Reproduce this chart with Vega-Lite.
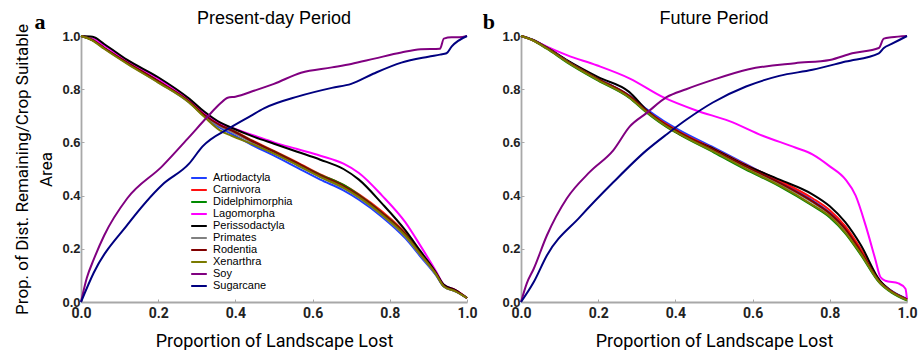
{
"$schema": "https://vega.github.io/schema/vega-lite/v6.json",
"background": "white",
"padding": {"left": 13, "top": 9, "right": 6, "bottom": 1},
"bounds": "flush",
"spacing": 54,
"config": {
  "view": {"stroke": null},
  "axis": {"grid": false, "domainColor": "#a8a8a8", "domainWidth": 1.8, "tickColor": "#a8a8a8", "tickSize": -3, "tickWidth": 1},
  "title": {"font": "Liberation Sans", "fontSize": 18, "fontWeight": "normal", "color": "#000", "offset": -17},
  "line": {"interpolate": "monotone", "strokeWidth": 2}
},
"datasets": {
"letters": [{"p": "a", "t": "a"}, {"p": "b", "t": "b"}],
"curves": [
{"p":"a","s":"Artiodactyla","x":0,"y":1},{"p":"a","s":"Artiodactyla","x":0.03,"y":0.985},{"p":"a","s":"Artiodactyla","x":0.06,"y":0.955},{"p":"a","s":"Artiodactyla","x":0.12,"y":0.898},{"p":"a","s":"Artiodactyla","x":0.2,"y":0.828},{"p":"a","s":"Artiodactyla","x":0.28,"y":0.752},{"p":"a","s":"Artiodactyla","x":0.32,"y":0.7},{"p":"a","s":"Artiodactyla","x":0.36,"y":0.655},{"p":"a","s":"Artiodactyla","x":0.39,"y":0.632},{"p":"a","s":"Artiodactyla","x":0.45,"y":0.585},{"p":"a","s":"Artiodactyla","x":0.5,"y":0.55},{"p":"a","s":"Artiodactyla","x":0.56,"y":0.505},{"p":"a","s":"Artiodactyla","x":0.62,"y":0.46},{"p":"a","s":"Artiodactyla","x":0.68,"y":0.42},{"p":"a","s":"Artiodactyla","x":0.72,"y":0.385},{"p":"a","s":"Artiodactyla","x":0.78,"y":0.32},{"p":"a","s":"Artiodactyla","x":0.84,"y":0.24},{"p":"a","s":"Artiodactyla","x":0.88,"y":0.17},{"p":"a","s":"Artiodactyla","x":0.92,"y":0.1},{"p":"a","s":"Artiodactyla","x":0.94,"y":0.058},{"p":"a","s":"Artiodactyla","x":0.97,"y":0.04},{"p":"a","s":"Artiodactyla","x":1,"y":0.015},
{"p":"a","s":"Carnivora","x":0,"y":1},{"p":"a","s":"Carnivora","x":0.03,"y":0.985},{"p":"a","s":"Carnivora","x":0.06,"y":0.955},{"p":"a","s":"Carnivora","x":0.12,"y":0.9},{"p":"a","s":"Carnivora","x":0.2,"y":0.83},{"p":"a","s":"Carnivora","x":0.28,"y":0.755},{"p":"a","s":"Carnivora","x":0.32,"y":0.705},{"p":"a","s":"Carnivora","x":0.36,"y":0.668},{"p":"a","s":"Carnivora","x":0.39,"y":0.648},{"p":"a","s":"Carnivora","x":0.45,"y":0.603},{"p":"a","s":"Carnivora","x":0.5,"y":0.568},{"p":"a","s":"Carnivora","x":0.56,"y":0.525},{"p":"a","s":"Carnivora","x":0.62,"y":0.48},{"p":"a","s":"Carnivora","x":0.68,"y":0.44},{"p":"a","s":"Carnivora","x":0.72,"y":0.405},{"p":"a","s":"Carnivora","x":0.78,"y":0.34},{"p":"a","s":"Carnivora","x":0.84,"y":0.26},{"p":"a","s":"Carnivora","x":0.88,"y":0.185},{"p":"a","s":"Carnivora","x":0.92,"y":0.108},{"p":"a","s":"Carnivora","x":0.94,"y":0.062},{"p":"a","s":"Carnivora","x":0.97,"y":0.045},{"p":"a","s":"Carnivora","x":1,"y":0.015},
{"p":"a","s":"Didelphimorphia","x":0,"y":1},{"p":"a","s":"Didelphimorphia","x":0.03,"y":0.985},{"p":"a","s":"Didelphimorphia","x":0.06,"y":0.955},{"p":"a","s":"Didelphimorphia","x":0.12,"y":0.9},{"p":"a","s":"Didelphimorphia","x":0.2,"y":0.83},{"p":"a","s":"Didelphimorphia","x":0.28,"y":0.755},{"p":"a","s":"Didelphimorphia","x":0.32,"y":0.703},{"p":"a","s":"Didelphimorphia","x":0.36,"y":0.666},{"p":"a","s":"Didelphimorphia","x":0.39,"y":0.646},{"p":"a","s":"Didelphimorphia","x":0.45,"y":0.6},{"p":"a","s":"Didelphimorphia","x":0.5,"y":0.566},{"p":"a","s":"Didelphimorphia","x":0.56,"y":0.522},{"p":"a","s":"Didelphimorphia","x":0.62,"y":0.478},{"p":"a","s":"Didelphimorphia","x":0.68,"y":0.44},{"p":"a","s":"Didelphimorphia","x":0.72,"y":0.402},{"p":"a","s":"Didelphimorphia","x":0.78,"y":0.335},{"p":"a","s":"Didelphimorphia","x":0.84,"y":0.255},{"p":"a","s":"Didelphimorphia","x":0.88,"y":0.182},{"p":"a","s":"Didelphimorphia","x":0.92,"y":0.105},{"p":"a","s":"Didelphimorphia","x":0.94,"y":0.06},{"p":"a","s":"Didelphimorphia","x":0.97,"y":0.043},{"p":"a","s":"Didelphimorphia","x":1,"y":0.015},
{"p":"a","s":"Lagomorpha","x":0,"y":1},{"p":"a","s":"Lagomorpha","x":0.03,"y":0.99},{"p":"a","s":"Lagomorpha","x":0.06,"y":0.965},{"p":"a","s":"Lagomorpha","x":0.12,"y":0.905},{"p":"a","s":"Lagomorpha","x":0.2,"y":0.84},{"p":"a","s":"Lagomorpha","x":0.28,"y":0.76},{"p":"a","s":"Lagomorpha","x":0.32,"y":0.71},{"p":"a","s":"Lagomorpha","x":0.36,"y":0.672},{"p":"a","s":"Lagomorpha","x":0.39,"y":0.655},{"p":"a","s":"Lagomorpha","x":0.45,"y":0.625},{"p":"a","s":"Lagomorpha","x":0.5,"y":0.6},{"p":"a","s":"Lagomorpha","x":0.56,"y":0.575},{"p":"a","s":"Lagomorpha","x":0.62,"y":0.55},{"p":"a","s":"Lagomorpha","x":0.68,"y":0.52},{"p":"a","s":"Lagomorpha","x":0.72,"y":0.485},{"p":"a","s":"Lagomorpha","x":0.78,"y":0.4},{"p":"a","s":"Lagomorpha","x":0.84,"y":0.3},{"p":"a","s":"Lagomorpha","x":0.88,"y":0.21},{"p":"a","s":"Lagomorpha","x":0.92,"y":0.115},{"p":"a","s":"Lagomorpha","x":0.94,"y":0.065},{"p":"a","s":"Lagomorpha","x":0.97,"y":0.045},{"p":"a","s":"Lagomorpha","x":1,"y":0.015},
{"p":"a","s":"Perissodactyla","x":0,"y":1},{"p":"a","s":"Perissodactyla","x":0.03,"y":0.997},{"p":"a","s":"Perissodactyla","x":0.06,"y":0.97},{"p":"a","s":"Perissodactyla","x":0.12,"y":0.91},{"p":"a","s":"Perissodactyla","x":0.2,"y":0.845},{"p":"a","s":"Perissodactyla","x":0.28,"y":0.765},{"p":"a","s":"Perissodactyla","x":0.32,"y":0.715},{"p":"a","s":"Perissodactyla","x":0.36,"y":0.675},{"p":"a","s":"Perissodactyla","x":0.39,"y":0.655},{"p":"a","s":"Perissodactyla","x":0.45,"y":0.62},{"p":"a","s":"Perissodactyla","x":0.5,"y":0.595},{"p":"a","s":"Perissodactyla","x":0.56,"y":0.565},{"p":"a","s":"Perissodactyla","x":0.62,"y":0.535},{"p":"a","s":"Perissodactyla","x":0.68,"y":0.5},{"p":"a","s":"Perissodactyla","x":0.72,"y":0.46},{"p":"a","s":"Perissodactyla","x":0.78,"y":0.37},{"p":"a","s":"Perissodactyla","x":0.84,"y":0.27},{"p":"a","s":"Perissodactyla","x":0.88,"y":0.19},{"p":"a","s":"Perissodactyla","x":0.92,"y":0.11},{"p":"a","s":"Perissodactyla","x":0.94,"y":0.065},{"p":"a","s":"Perissodactyla","x":0.97,"y":0.045},{"p":"a","s":"Perissodactyla","x":1,"y":0.015},
{"p":"a","s":"Primates","x":0,"y":1},{"p":"a","s":"Primates","x":0.03,"y":0.985},{"p":"a","s":"Primates","x":0.06,"y":0.953},{"p":"a","s":"Primates","x":0.12,"y":0.897},{"p":"a","s":"Primates","x":0.2,"y":0.826},{"p":"a","s":"Primates","x":0.28,"y":0.75},{"p":"a","s":"Primates","x":0.32,"y":0.698},{"p":"a","s":"Primates","x":0.36,"y":0.66},{"p":"a","s":"Primates","x":0.39,"y":0.64},{"p":"a","s":"Primates","x":0.45,"y":0.595},{"p":"a","s":"Primates","x":0.5,"y":0.56},{"p":"a","s":"Primates","x":0.56,"y":0.515},{"p":"a","s":"Primates","x":0.62,"y":0.47},{"p":"a","s":"Primates","x":0.68,"y":0.428},{"p":"a","s":"Primates","x":0.72,"y":0.392},{"p":"a","s":"Primates","x":0.78,"y":0.326},{"p":"a","s":"Primates","x":0.84,"y":0.246},{"p":"a","s":"Primates","x":0.88,"y":0.175},{"p":"a","s":"Primates","x":0.92,"y":0.102},{"p":"a","s":"Primates","x":0.94,"y":0.058},{"p":"a","s":"Primates","x":0.97,"y":0.04},{"p":"a","s":"Primates","x":1,"y":0.015},
{"p":"a","s":"Rodentia","x":0,"y":1},{"p":"a","s":"Rodentia","x":0.03,"y":0.985},{"p":"a","s":"Rodentia","x":0.06,"y":0.955},{"p":"a","s":"Rodentia","x":0.12,"y":0.9},{"p":"a","s":"Rodentia","x":0.2,"y":0.83},{"p":"a","s":"Rodentia","x":0.28,"y":0.755},{"p":"a","s":"Rodentia","x":0.32,"y":0.703},{"p":"a","s":"Rodentia","x":0.36,"y":0.665},{"p":"a","s":"Rodentia","x":0.39,"y":0.645},{"p":"a","s":"Rodentia","x":0.45,"y":0.6},{"p":"a","s":"Rodentia","x":0.5,"y":0.565},{"p":"a","s":"Rodentia","x":0.56,"y":0.522},{"p":"a","s":"Rodentia","x":0.62,"y":0.476},{"p":"a","s":"Rodentia","x":0.68,"y":0.436},{"p":"a","s":"Rodentia","x":0.72,"y":0.4},{"p":"a","s":"Rodentia","x":0.78,"y":0.334},{"p":"a","s":"Rodentia","x":0.84,"y":0.254},{"p":"a","s":"Rodentia","x":0.88,"y":0.18},{"p":"a","s":"Rodentia","x":0.92,"y":0.106},{"p":"a","s":"Rodentia","x":0.94,"y":0.06},{"p":"a","s":"Rodentia","x":0.97,"y":0.042},{"p":"a","s":"Rodentia","x":1,"y":0.015},
{"p":"a","s":"Xenarthra","x":0,"y":1},{"p":"a","s":"Xenarthra","x":0.03,"y":0.983},{"p":"a","s":"Xenarthra","x":0.06,"y":0.952},{"p":"a","s":"Xenarthra","x":0.12,"y":0.895},{"p":"a","s":"Xenarthra","x":0.2,"y":0.825},{"p":"a","s":"Xenarthra","x":0.28,"y":0.75},{"p":"a","s":"Xenarthra","x":0.32,"y":0.695},{"p":"a","s":"Xenarthra","x":0.36,"y":0.645},{"p":"a","s":"Xenarthra","x":0.39,"y":0.625},{"p":"a","s":"Xenarthra","x":0.45,"y":0.59},{"p":"a","s":"Xenarthra","x":0.5,"y":0.558},{"p":"a","s":"Xenarthra","x":0.56,"y":0.515},{"p":"a","s":"Xenarthra","x":0.62,"y":0.47},{"p":"a","s":"Xenarthra","x":0.68,"y":0.43},{"p":"a","s":"Xenarthra","x":0.72,"y":0.394},{"p":"a","s":"Xenarthra","x":0.78,"y":0.328},{"p":"a","s":"Xenarthra","x":0.84,"y":0.25},{"p":"a","s":"Xenarthra","x":0.88,"y":0.178},{"p":"a","s":"Xenarthra","x":0.92,"y":0.104},{"p":"a","s":"Xenarthra","x":0.94,"y":0.058},{"p":"a","s":"Xenarthra","x":0.97,"y":0.04},{"p":"a","s":"Xenarthra","x":1,"y":0.015},
{"p":"a","s":"Soy","x":0,"y":0},{"p":"a","s":"Soy","x":0.015,"y":0.09},{"p":"a","s":"Soy","x":0.033,"y":0.16},{"p":"a","s":"Soy","x":0.06,"y":0.25},{"p":"a","s":"Soy","x":0.12,"y":0.39},{"p":"a","s":"Soy","x":0.21,"y":0.51},{"p":"a","s":"Soy","x":0.28,"y":0.62},{"p":"a","s":"Soy","x":0.33,"y":0.7},{"p":"a","s":"Soy","x":0.36,"y":0.745},{"p":"a","s":"Soy","x":0.38,"y":0.768},{"p":"a","s":"Soy","x":0.4,"y":0.772},{"p":"a","s":"Soy","x":0.45,"y":0.795},{"p":"a","s":"Soy","x":0.5,"y":0.82},{"p":"a","s":"Soy","x":0.57,"y":0.862},{"p":"a","s":"Soy","x":0.65,"y":0.882},{"p":"a","s":"Soy","x":0.7,"y":0.895},{"p":"a","s":"Soy","x":0.76,"y":0.915},{"p":"a","s":"Soy","x":0.83,"y":0.938},{"p":"a","s":"Soy","x":0.88,"y":0.95},{"p":"a","s":"Soy","x":0.93,"y":0.952},{"p":"a","s":"Soy","x":0.94,"y":0.99},{"p":"a","s":"Soy","x":0.96,"y":0.995},{"p":"a","s":"Soy","x":0.98,"y":0.995},{"p":"a","s":"Soy","x":1,"y":1},
{"p":"a","s":"Sugarcane","x":0,"y":0},{"p":"a","s":"Sugarcane","x":0.033,"y":0.11},{"p":"a","s":"Sugarcane","x":0.12,"y":0.29},{"p":"a","s":"Sugarcane","x":0.21,"y":0.44},{"p":"a","s":"Sugarcane","x":0.28,"y":0.52},{"p":"a","s":"Sugarcane","x":0.315,"y":0.585},{"p":"a","s":"Sugarcane","x":0.386,"y":0.655},{"p":"a","s":"Sugarcane","x":0.44,"y":0.7},{"p":"a","s":"Sugarcane","x":0.474,"y":0.728},{"p":"a","s":"Sugarcane","x":0.563,"y":0.773},{"p":"a","s":"Sugarcane","x":0.65,"y":0.805},{"p":"a","s":"Sugarcane","x":0.7,"y":0.82},{"p":"a","s":"Sugarcane","x":0.757,"y":0.858},{"p":"a","s":"Sugarcane","x":0.83,"y":0.9},{"p":"a","s":"Sugarcane","x":0.9,"y":0.922},{"p":"a","s":"Sugarcane","x":0.93,"y":0.93},{"p":"a","s":"Sugarcane","x":0.947,"y":0.935},{"p":"a","s":"Sugarcane","x":0.96,"y":0.96},{"p":"a","s":"Sugarcane","x":1,"y":1},
{"p":"b","s":"Artiodactyla","x":0,"y":1},{"p":"b","s":"Artiodactyla","x":0.03,"y":0.986},{"p":"b","s":"Artiodactyla","x":0.067,"y":0.957},{"p":"b","s":"Artiodactyla","x":0.12,"y":0.907},{"p":"b","s":"Artiodactyla","x":0.2,"y":0.84},{"p":"b","s":"Artiodactyla","x":0.28,"y":0.777},{"p":"b","s":"Artiodactyla","x":0.325,"y":0.725},{"p":"b","s":"Artiodactyla","x":0.37,"y":0.68},{"p":"b","s":"Artiodactyla","x":0.41,"y":0.646},{"p":"b","s":"Artiodactyla","x":0.5,"y":0.58},{"p":"b","s":"Artiodactyla","x":0.58,"y":0.52},{"p":"b","s":"Artiodactyla","x":0.67,"y":0.452},{"p":"b","s":"Artiodactyla","x":0.755,"y":0.382},{"p":"b","s":"Artiodactyla","x":0.8,"y":0.336},{"p":"b","s":"Artiodactyla","x":0.84,"y":0.278},{"p":"b","s":"Artiodactyla","x":0.88,"y":0.192},{"p":"b","s":"Artiodactyla","x":0.93,"y":0.077},{"p":"b","s":"Artiodactyla","x":0.96,"y":0.042},{"p":"b","s":"Artiodactyla","x":1,"y":0.012},
{"p":"b","s":"Carnivora","x":0,"y":1},{"p":"b","s":"Carnivora","x":0.03,"y":0.985},{"p":"b","s":"Carnivora","x":0.067,"y":0.955},{"p":"b","s":"Carnivora","x":0.12,"y":0.905},{"p":"b","s":"Carnivora","x":0.2,"y":0.838},{"p":"b","s":"Carnivora","x":0.28,"y":0.775},{"p":"b","s":"Carnivora","x":0.325,"y":0.72},{"p":"b","s":"Carnivora","x":0.37,"y":0.674},{"p":"b","s":"Carnivora","x":0.41,"y":0.64},{"p":"b","s":"Carnivora","x":0.5,"y":0.576},{"p":"b","s":"Carnivora","x":0.58,"y":0.517},{"p":"b","s":"Carnivora","x":0.67,"y":0.456},{"p":"b","s":"Carnivora","x":0.755,"y":0.39},{"p":"b","s":"Carnivora","x":0.8,"y":0.345},{"p":"b","s":"Carnivora","x":0.84,"y":0.285},{"p":"b","s":"Carnivora","x":0.88,"y":0.2},{"p":"b","s":"Carnivora","x":0.93,"y":0.078},{"p":"b","s":"Carnivora","x":0.96,"y":0.04},{"p":"b","s":"Carnivora","x":1,"y":0.01},
{"p":"b","s":"Didelphimorphia","x":0,"y":1},{"p":"b","s":"Didelphimorphia","x":0.03,"y":0.984},{"p":"b","s":"Didelphimorphia","x":0.067,"y":0.952},{"p":"b","s":"Didelphimorphia","x":0.12,"y":0.9},{"p":"b","s":"Didelphimorphia","x":0.2,"y":0.832},{"p":"b","s":"Didelphimorphia","x":0.28,"y":0.768},{"p":"b","s":"Didelphimorphia","x":0.325,"y":0.713},{"p":"b","s":"Didelphimorphia","x":0.37,"y":0.665},{"p":"b","s":"Didelphimorphia","x":0.41,"y":0.63},{"p":"b","s":"Didelphimorphia","x":0.5,"y":0.562},{"p":"b","s":"Didelphimorphia","x":0.58,"y":0.5},{"p":"b","s":"Didelphimorphia","x":0.67,"y":0.435},{"p":"b","s":"Didelphimorphia","x":0.755,"y":0.362},{"p":"b","s":"Didelphimorphia","x":0.8,"y":0.318},{"p":"b","s":"Didelphimorphia","x":0.84,"y":0.258},{"p":"b","s":"Didelphimorphia","x":0.88,"y":0.178},{"p":"b","s":"Didelphimorphia","x":0.93,"y":0.07},{"p":"b","s":"Didelphimorphia","x":0.96,"y":0.035},{"p":"b","s":"Didelphimorphia","x":1,"y":0.005},
{"p":"b","s":"Lagomorpha","x":0,"y":1},{"p":"b","s":"Lagomorpha","x":0.03,"y":0.985},{"p":"b","s":"Lagomorpha","x":0.067,"y":0.96},{"p":"b","s":"Lagomorpha","x":0.119,"y":0.928},{"p":"b","s":"Lagomorpha","x":0.196,"y":0.89},{"p":"b","s":"Lagomorpha","x":0.282,"y":0.84},{"p":"b","s":"Lagomorpha","x":0.368,"y":0.77},{"p":"b","s":"Lagomorpha","x":0.454,"y":0.72},{"p":"b","s":"Lagomorpha","x":0.54,"y":0.68},{"p":"b","s":"Lagomorpha","x":0.626,"y":0.625},{"p":"b","s":"Lagomorpha","x":0.712,"y":0.58},{"p":"b","s":"Lagomorpha","x":0.755,"y":0.555},{"p":"b","s":"Lagomorpha","x":0.8,"y":0.51},{"p":"b","s":"Lagomorpha","x":0.841,"y":0.46},{"p":"b","s":"Lagomorpha","x":0.867,"y":0.4},{"p":"b","s":"Lagomorpha","x":0.893,"y":0.287},{"p":"b","s":"Lagomorpha","x":0.918,"y":0.16},{"p":"b","s":"Lagomorpha","x":0.931,"y":0.094},{"p":"b","s":"Lagomorpha","x":0.944,"y":0.08},{"p":"b","s":"Lagomorpha","x":0.978,"y":0.07},{"p":"b","s":"Lagomorpha","x":0.996,"y":0.05},{"p":"b","s":"Lagomorpha","x":1,"y":0.01},
{"p":"b","s":"Perissodactyla","x":0,"y":1},{"p":"b","s":"Perissodactyla","x":0.03,"y":0.986},{"p":"b","s":"Perissodactyla","x":0.067,"y":0.957},{"p":"b","s":"Perissodactyla","x":0.12,"y":0.908},{"p":"b","s":"Perissodactyla","x":0.2,"y":0.845},{"p":"b","s":"Perissodactyla","x":0.28,"y":0.79},{"p":"b","s":"Perissodactyla","x":0.325,"y":0.722},{"p":"b","s":"Perissodactyla","x":0.37,"y":0.668},{"p":"b","s":"Perissodactyla","x":0.41,"y":0.632},{"p":"b","s":"Perissodactyla","x":0.5,"y":0.575},{"p":"b","s":"Perissodactyla","x":0.58,"y":0.515},{"p":"b","s":"Perissodactyla","x":0.67,"y":0.46},{"p":"b","s":"Perissodactyla","x":0.755,"y":0.405},{"p":"b","s":"Perissodactyla","x":0.8,"y":0.36},{"p":"b","s":"Perissodactyla","x":0.84,"y":0.3},{"p":"b","s":"Perissodactyla","x":0.88,"y":0.215},{"p":"b","s":"Perissodactyla","x":0.93,"y":0.08},{"p":"b","s":"Perissodactyla","x":0.96,"y":0.04},{"p":"b","s":"Perissodactyla","x":1,"y":0.01},
{"p":"b","s":"Primates","x":0,"y":1},{"p":"b","s":"Primates","x":0.03,"y":0.985},{"p":"b","s":"Primates","x":0.067,"y":0.955},{"p":"b","s":"Primates","x":0.12,"y":0.905},{"p":"b","s":"Primates","x":0.2,"y":0.837},{"p":"b","s":"Primates","x":0.28,"y":0.772},{"p":"b","s":"Primates","x":0.325,"y":0.718},{"p":"b","s":"Primates","x":0.37,"y":0.67},{"p":"b","s":"Primates","x":0.41,"y":0.636},{"p":"b","s":"Primates","x":0.5,"y":0.57},{"p":"b","s":"Primates","x":0.58,"y":0.51},{"p":"b","s":"Primates","x":0.67,"y":0.445},{"p":"b","s":"Primates","x":0.755,"y":0.375},{"p":"b","s":"Primates","x":0.8,"y":0.33},{"p":"b","s":"Primates","x":0.84,"y":0.272},{"p":"b","s":"Primates","x":0.88,"y":0.188},{"p":"b","s":"Primates","x":0.93,"y":0.074},{"p":"b","s":"Primates","x":0.96,"y":0.04},{"p":"b","s":"Primates","x":1,"y":0.01},
{"p":"b","s":"Rodentia","x":0,"y":1},{"p":"b","s":"Rodentia","x":0.03,"y":0.985},{"p":"b","s":"Rodentia","x":0.067,"y":0.955},{"p":"b","s":"Rodentia","x":0.12,"y":0.905},{"p":"b","s":"Rodentia","x":0.2,"y":0.838},{"p":"b","s":"Rodentia","x":0.28,"y":0.775},{"p":"b","s":"Rodentia","x":0.325,"y":0.72},{"p":"b","s":"Rodentia","x":0.37,"y":0.672},{"p":"b","s":"Rodentia","x":0.41,"y":0.638},{"p":"b","s":"Rodentia","x":0.5,"y":0.572},{"p":"b","s":"Rodentia","x":0.58,"y":0.512},{"p":"b","s":"Rodentia","x":0.67,"y":0.448},{"p":"b","s":"Rodentia","x":0.755,"y":0.378},{"p":"b","s":"Rodentia","x":0.8,"y":0.333},{"p":"b","s":"Rodentia","x":0.84,"y":0.275},{"p":"b","s":"Rodentia","x":0.88,"y":0.19},{"p":"b","s":"Rodentia","x":0.93,"y":0.075},{"p":"b","s":"Rodentia","x":0.96,"y":0.04},{"p":"b","s":"Rodentia","x":1,"y":0.01},
{"p":"b","s":"Xenarthra","x":0,"y":1},{"p":"b","s":"Xenarthra","x":0.03,"y":0.984},{"p":"b","s":"Xenarthra","x":0.067,"y":0.953},{"p":"b","s":"Xenarthra","x":0.12,"y":0.902},{"p":"b","s":"Xenarthra","x":0.2,"y":0.834},{"p":"b","s":"Xenarthra","x":0.28,"y":0.77},{"p":"b","s":"Xenarthra","x":0.325,"y":0.715},{"p":"b","s":"Xenarthra","x":0.37,"y":0.667},{"p":"b","s":"Xenarthra","x":0.41,"y":0.632},{"p":"b","s":"Xenarthra","x":0.5,"y":0.565},{"p":"b","s":"Xenarthra","x":0.58,"y":0.503},{"p":"b","s":"Xenarthra","x":0.67,"y":0.438},{"p":"b","s":"Xenarthra","x":0.755,"y":0.365},{"p":"b","s":"Xenarthra","x":0.8,"y":0.322},{"p":"b","s":"Xenarthra","x":0.84,"y":0.262},{"p":"b","s":"Xenarthra","x":0.88,"y":0.182},{"p":"b","s":"Xenarthra","x":0.93,"y":0.072},{"p":"b","s":"Xenarthra","x":0.96,"y":0.037},{"p":"b","s":"Xenarthra","x":1,"y":0.007},
{"p":"b","s":"Soy","x":0,"y":0},{"p":"b","s":"Soy","x":0.015,"y":0.07},{"p":"b","s":"Soy","x":0.033,"y":0.125},{"p":"b","s":"Soy","x":0.067,"y":0.25},{"p":"b","s":"Soy","x":0.119,"y":0.39},{"p":"b","s":"Soy","x":0.179,"y":0.49},{"p":"b","s":"Soy","x":0.239,"y":0.57},{"p":"b","s":"Soy","x":0.282,"y":0.66},{"p":"b","s":"Soy","x":0.325,"y":0.71},{"p":"b","s":"Soy","x":0.377,"y":0.77},{"p":"b","s":"Soy","x":0.428,"y":0.8},{"p":"b","s":"Soy","x":0.497,"y":0.835},{"p":"b","s":"Soy","x":0.59,"y":0.875},{"p":"b","s":"Soy","x":0.71,"y":0.898},{"p":"b","s":"Soy","x":0.8,"y":0.91},{"p":"b","s":"Soy","x":0.858,"y":0.935},{"p":"b","s":"Soy","x":0.927,"y":0.955},{"p":"b","s":"Soy","x":0.94,"y":0.99},{"p":"b","s":"Soy","x":0.96,"y":0.995},{"p":"b","s":"Soy","x":1,"y":1},
{"p":"b","s":"Sugarcane","x":0,"y":0},{"p":"b","s":"Sugarcane","x":0.033,"y":0.075},{"p":"b","s":"Sugarcane","x":0.067,"y":0.175},{"p":"b","s":"Sugarcane","x":0.153,"y":0.32},{"p":"b","s":"Sugarcane","x":0.239,"y":0.45},{"p":"b","s":"Sugarcane","x":0.325,"y":0.57},{"p":"b","s":"Sugarcane","x":0.377,"y":0.63},{"p":"b","s":"Sugarcane","x":0.428,"y":0.685},{"p":"b","s":"Sugarcane","x":0.497,"y":0.75},{"p":"b","s":"Sugarcane","x":0.583,"y":0.81},{"p":"b","s":"Sugarcane","x":0.669,"y":0.85},{"p":"b","s":"Sugarcane","x":0.755,"y":0.873},{"p":"b","s":"Sugarcane","x":0.841,"y":0.904},{"p":"b","s":"Sugarcane","x":0.927,"y":0.935},{"p":"b","s":"Sugarcane","x":0.94,"y":0.955},{"p":"b","s":"Sugarcane","x":0.96,"y":0.97},{"p":"b","s":"Sugarcane","x":1,"y":1}
]
},
"resolve": {"legend": {"color": "independent"}},
"hconcat": [
{
  "width": 386, "height": 266,
  "title": {"text": "Present-day Period"},
  "layer": [
    {
      "data": {"name": "curves"},
      "transform": [{"filter": "datum.p == 'a'"}],
      "mark": {"type": "line"},
      "encoding": {
        "x": {"field": "x", "type": "quantitative", "scale": {"domain": [0, 1]},
          "axis": {"values": [0,0.1,0.2,0.3,0.4,0.5,0.6,0.7,0.8,0.9,1], "labelExpr": "round(datum.value*10) % 2 == 0 ? format(datum.value, '.1f') : ''", "labelFont": "Roboto", "labelFontWeight": "bold", "labelFontSize": 14, "labelColor": "#222", "labelPadding": 7, "title": "Proportion of Landscape Lost", "titleFont": "Roboto", "titleFontSize": 18, "titleFontWeight": "normal", "titleColor": "#000", "titlePadding": 12, "labelFlush": false}},
        "y": {"field": "y", "type": "quantitative", "scale": {"domain": [0, 1]},
          "axis": {"values": [0,0.1,0.2,0.3,0.4,0.5,0.6,0.7,0.8,0.9,1], "labelExpr": "round(datum.value*10) % 2 == 0 ? format(datum.value, '.1f') : ''", "labelFont": "Liberation Sans", "labelFontWeight": "bold", "labelFontSize": 13, "labelColor": "#222", "labelPadding": 4, "title": ["Prop. of Dist. Remaining/Crop Suitable", "Area"], "titleFont": "Roboto", "titleFontSize": 17, "titleFontWeight": "normal", "titleColor": "#000", "titleLineHeight": 24, "titlePadding": 6}},
        "color": {"field": "s", "type": "nominal",
          "scale": {"domain": ["Artiodactyla","Carnivora","Didelphimorphia","Lagomorpha","Perissodactyla","Primates","Rodentia","Xenarthra","Soy","Sugarcane"],
                    "range": ["#1f3fff","#ff1010","#008a00","#ff00ff","#000000","#808080","#800000","#7a7a00","#800080","#000080"]},
          "legend": {"orient": "none", "legendX": 111, "legendY": 135, "title": null, "padding": 0, "labelFont": "Liberation Sans", "labelFontSize": 11, "labelColor": "#000", "symbolType": "M-1.3,0H1.3", "symbolStrokeWidth": 2, "symbolSize": 144, "rowPadding": 0, "labelOffset": 7}}
      }
    },
    {
      "data": {"name": "letters"},
      "transform": [{"filter": "datum.p == 'a'"}],
      "mark": {"type": "text", "font": "Liberation Serif", "fontWeight": "bold", "fontSize": 22, "color": "#000"},
      "encoding": {"x": {"datum": -0.106, "type": "quantitative"}, "y": {"datum": 1.053, "type": "quantitative"}, "text": {"field": "t"}}
    }
  ]
},
{
  "width": 386, "height": 266,
  "title": {"text": "Future Period"},
  "layer": [
    {
      "data": {"name": "curves"},
      "transform": [{"filter": "datum.p == 'b'"}],
      "mark": {"type": "line"},
      "encoding": {
        "x": {"field": "x", "type": "quantitative", "scale": {"domain": [0, 1]},
          "axis": {"values": [0,0.1,0.2,0.3,0.4,0.5,0.6,0.7,0.8,0.9,1], "labelExpr": "round(datum.value*10) % 2 == 0 ? format(datum.value, '.1f') : ''", "labelFont": "Roboto", "labelFontWeight": "bold", "labelFontSize": 14, "labelColor": "#222", "labelPadding": 7, "title": "Proportion of Landscape Lost", "titleFont": "Roboto", "titleFontSize": 18, "titleFontWeight": "normal", "titleColor": "#000", "titlePadding": 12, "labelFlush": false}},
        "y": {"field": "y", "type": "quantitative", "scale": {"domain": [0, 1]},
          "axis": {"values": [0,0.1,0.2,0.3,0.4,0.5,0.6,0.7,0.8,0.9,1], "labelExpr": "round(datum.value*10) % 2 == 0 ? format(datum.value, '.1f') : ''", "labelFont": "Liberation Sans", "labelFontWeight": "bold", "labelFontSize": 13, "labelColor": "#222", "labelPadding": 4, "title": null}},
        "color": {"field": "s", "type": "nominal",
          "scale": {"domain": ["Artiodactyla","Carnivora","Didelphimorphia","Lagomorpha","Perissodactyla","Primates","Rodentia","Xenarthra","Soy","Sugarcane"],
                    "range": ["#1f3fff","#ff1010","#008a00","#ff00ff","#000000","#808080","#800000","#7a7a00","#800080","#000080"]},
          "legend": null}
      }
    },
    {
      "data": {"name": "letters"},
      "transform": [{"filter": "datum.p == 'b'"}],
      "mark": {"type": "text", "font": "Liberation Serif", "fontWeight": "bold", "fontSize": 22, "color": "#000"},
      "encoding": {"x": {"datum": -0.083, "type": "quantitative"}, "y": {"datum": 1.053, "type": "quantitative"}, "text": {"field": "t"}}
    }
  ]
}
]
}
